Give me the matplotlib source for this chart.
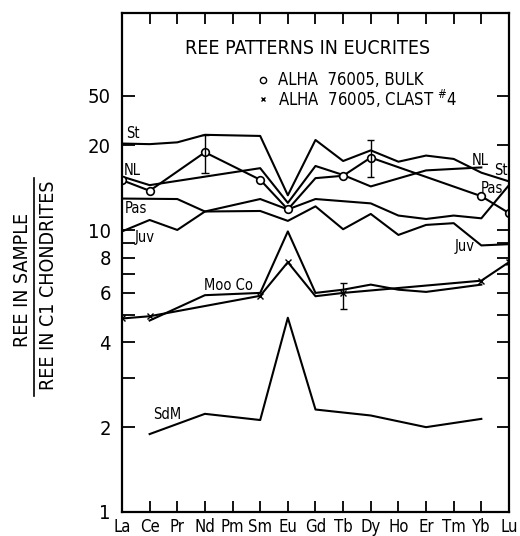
import numpy as np
import matplotlib
matplotlib.use('Agg')
import matplotlib.pyplot as plt
from matplotlib.lines import Line2D

plt.rcParams['font.family'] = 'DejaVu Sans'
plt.rcParams['font.stretch'] = 'condensed'

# DATA (REE / C1 chondrite)
elements = ['La', 'Ce', 'Pr', 'Nd', 'Pm', 'Sm', 'Eu', 'Gd', 'Tb', 'Dy', 'Ho', 'Er', 'Tm', 'Yb', 'Lu']

st_el = ['La', 'Ce', 'Pr', 'Nd', 'Sm', 'Eu', 'Gd', 'Tb', 'Dy', 'Ho', 'Er', 'Tm', 'Yb', 'Lu']
st_val = [20.3, 20.2, 20.5, 21.8, 21.6, 13.3, 20.9, 17.6, 19.2, 17.5, 18.4, 17.9, 16.0, 14.9]

nl_el = ['La', 'Ce', 'Sm', 'Eu', 'Gd', 'Tb', 'Dy', 'Er', 'Yb']
nl_val = [15.5, 14.45, 16.6, 12.5, 16.9, 15.7, 14.3, 16.3, 16.7]

bulk_el = ['La', 'Ce', 'Nd', 'Sm', 'Eu', 'Gd', 'Tb', 'Dy', 'Yb', 'Lu']
bulk_val = [15.05, 13.8, 18.9, 15.1, 11.85, 15.3, 15.6, 18.1, 13.2, 11.5]
bulk_err_el = ['Nd', 'Dy']
bulk_err_lo = [16.0, 15.4]
bulk_err_hi = [21.8, 20.9]

pas_el = ['La', 'Pr', 'Nd', 'Sm', 'Eu', 'Gd', 'Dy', 'Ho', 'Er', 'Tm', 'Yb', 'Lu']
pas_val = [12.95, 12.9, 11.65, 12.9, 11.85, 12.9, 12.45, 11.27, 10.96, 11.27, 11.02, 14.45]

juv_el = ['La', 'Ce', 'Pr', 'Nd', 'Sm', 'Eu', 'Gd', 'Tb', 'Dy', 'Ho', 'Er', 'Tm', 'Yb', 'Lu']
juv_val = [9.9, 10.87, 10.02, 11.65, 11.7, 10.79, 12.15, 10.08, 11.42, 9.62, 10.44, 10.59, 8.83, 8.92]

moo_el = ['Ce', 'Nd', 'Sm', 'Eu', 'Gd', 'Tb', 'Dy', 'Ho', 'Er', 'Tm', 'Yb']
moo_val = [4.78, 5.88, 5.99, 9.9, 5.99, 6.15, 6.41, 6.15, 6.04, 6.22, 6.41]

clast_el = ['La', 'Ce', 'Sm', 'Eu', 'Gd', 'Tb', 'Yb', 'Lu']
clast_val = [4.86, 4.95, 5.85, 7.7, 5.83, 5.99, 6.62, 7.7]
clast_err_el = ['Tb']
clast_err_lo = [5.27]
clast_err_hi = [6.5]

sdm_el = ['Ce', 'Nd', 'Sm', 'Eu', 'Gd', 'Dy', 'Er', 'Yb']
sdm_val = [1.89, 2.23, 2.12, 4.89, 2.31, 2.2, 2.0, 2.14]

ytick_vals = [1, 2, 4, 6, 8, 10, 20, 30]
ytick_labels = ['1', '2', '4', '6', '8', '10', '20', '50']
yminor_vals = [3, 5, 7, 9]


def xpos(els):
    return np.array([elements.index(e) for e in els])


fig = plt.figure(figsize=(5.2, 5.36), dpi=100)
ax = fig.add_axes([0.2346, 0.0448, 0.7442, 0.931])
ax.set_yscale('log')

lw = 1.5
kw = dict(color='black', lw=lw)

ax.plot(xpos(st_el), st_val, **kw)
ax.plot(xpos(nl_el), nl_val, **kw)
ax.plot(xpos(pas_el), pas_val, **kw)
ax.plot(xpos(juv_el), juv_val, **kw)
ax.plot(xpos(moo_el), moo_val, **kw)
ax.plot(xpos(sdm_el), sdm_val, **kw)

# bulk: open circles (no symbol at Gd)
bx = xpos(bulk_el)
ax.plot(bx, bulk_val, marker='o', ms=5.5, mfc='white', mec='black', mew=1.2,
        markevery=[i for i, e in enumerate(bulk_el) if e != 'Gd'], **kw)
# clast #4: small crosses
cx = xpos(clast_el)
ax.plot(cx, clast_val, marker='x', ms=4, mew=1.0,
        markevery=[i for i, e in enumerate(clast_el) if e != 'Gd'], **kw)

# error bars
for els, lo, hi in [(bulk_err_el, bulk_err_lo, bulk_err_hi),
                    (clast_err_el, clast_err_lo, clast_err_hi)]:
    ex = xpos(els)
    ax.vlines(ex, lo, hi, color='black', lw=1.0)
    ax.hlines(lo, ex - 0.13, ex + 0.13, color='black', lw=1.0)
    ax.hlines(hi, ex - 0.13, ex + 0.13, color='black', lw=1.0)

# axes
ax.set_xlim(0, 14)
ax.set_ylim(1, 59)
ax.set_xticks(range(len(elements)))
ax.set_xticklabels(elements, fontsize=12)
ax.set_yticks(ytick_vals)
ax.set_yticklabels(ytick_labels, fontsize=14.5)
ax.set_yticks(yminor_vals, minor=True)
ax.yaxis.set_minor_formatter(plt.NullFormatter())
ax.tick_params(axis='x', which='both', direction='in', top=True, length=8, width=1.3, pad=4.5)
ax.tick_params(axis='y', which='both', direction='in', right=True, length=9, width=1.3, pad=8)
for s in ax.spines.values():
    s.set_linewidth(1.6)

# title & key
ax.text(0.48, 0.928, 'REE PATTERNS IN EUCRITES', transform=ax.transAxes,
        ha='center', va='center', fontsize=14)
ax.plot([0.3636], [0.8657], transform=ax.transAxes, marker='o', ms=4.5,
        mfc='white', mec='black', mew=1.0, ls='none')
ax.text(0.403, 0.8657, 'ALHA  76005, BULK', transform=ax.transAxes,
        ha='left', va='center', fontsize=12)
ax.plot([0.3636], [0.827], transform=ax.transAxes, marker='x', ms=3.5,
        color='black', mew=1.0, ls='none')
ax.text(0.403, 0.827, r'ALHA  76005, CLAST $^{\#}$4', transform=ax.transAxes,
        ha='left', va='center', fontsize=12)

# curve names
lab = dict(fontsize=10.5, color='black')
ax.text(0.15, 22.0, 'St', ha='left', va='center', **lab)
ax.text(0.05, 16.3, 'NL', ha='left', va='center', **lab)
ax.text(0.1, 11.96, 'Pas', ha='left', va='center', **lab)
ax.text(0.47, 9.45, 'Juv', ha='left', va='center', **lab)
ax.text(3.84, 6.39, 'Moo Co', ha='center', va='center', **lab)
ax.text(1.62, 2.21, 'SdM', ha='center', va='center', **lab)
ax.text(12.97, 17.72, 'NL', ha='center', va='center', **lab)
ax.text(13.71, 16.33, 'St', ha='center', va='center', **lab)
ax.text(13.39, 14.07, 'Pas', ha='center', va='center', **lab)
ax.text(12.41, 8.78, 'Juv', ha='center', va='center', **lab)

# y label as a fraction
fig.text(0.043, 0.477, 'REE IN SAMPLE', rotation=90, ha='center', va='center', fontsize=14)
fig.text(0.094, 0.467, 'REE IN C1 CHONDRITES', rotation=90, ha='center', va='center', fontsize=14)
fig.add_artist(Line2D([0.066, 0.066], [0.262, 0.668], transform=fig.transFigure,
                      color='black', lw=1.2))

plt.savefig('out.png', dpi=100)
